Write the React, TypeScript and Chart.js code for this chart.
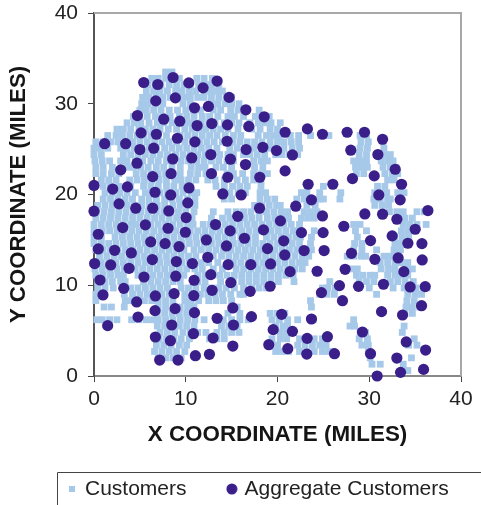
import React, { useEffect, useRef } from "react";
import { Chart, registerables } from "chart.js";

Chart.register(...registerables);

const axisTicks = [0, 10, 20, 30, 40];

const customerRows: [number, number[]][] = [
  [33.5, [7.8, 8.5]],
  [32.8, [6.3, 7.0, 7.8, 8.6, 9.3, 11.2, 12.0, 12.9]],
  [32.1, [5.9, 6.7, 7.3, 8.2, 9.0, 9.8, 10.5, 11.4, 12.1, 12.8, 13.6]],
  [31.4, [5.7, 6.5, 7.2, 8.0, 8.9, 9.6, 10.4, 11.1, 12.0, 12.7, 13.4, 14.0]],
  [30.7, [5.3, 6.0, 6.8, 7.5, 8.3, 9.2, 9.9, 10.5, 11.3, 12.0, 12.8, 13.6, 14.4, 15.0]],
  [30.0, [5.2, 5.9, 6.7, 7.5, 9.7, 10.5, 12.8, 13.5, 14.3, 15.0, 15.8]],
  [29.3, [5.0, 5.7, 6.5, 7.3, 8.2, 9.1, 10.0, 10.8, 11.6, 13.0, 13.8, 14.9, 15.7, 16.4, 18.0]],
  [28.6, [4.3, 5.0, 5.8, 6.7, 7.5, 8.3, 9.3, 10.1, 10.9, 11.8, 12.6, 13.5, 14.6, 15.3, 16.3, 17.6, 18.3, 19.1]],
  [27.9, [3.6, 4.4, 5.1, 6.0, 6.9, 7.6, 8.5, 10.1, 10.8, 11.7, 12.5, 13.2, 14.2, 15.0, 15.8, 17.0, 17.9, 18.6, 19.3, 20.3]],
  [27.2, [2.5, 3.2, 4.0, 4.9, 5.6, 6.4, 7.2, 8.1, 9.0, 9.9, 10.7, 11.5, 12.2, 13.0, 13.8, 14.6, 15.7, 17.2, 18.1, 19.2, 20.0]],
  [26.5, [1.5, 2.4, 3.1, 3.9, 4.7, 5.4, 6.2, 7.0, 7.9, 9.4, 10.2, 11.0, 11.8, 12.6, 13.4, 14.3, 15.2, 16.0, 17.9, 18.8, 19.5, 20.2, 21.4, 22.3, 23.6, 25.6, 29.0, 29.7]],
  [25.8, [0.2, 1.0, 1.8, 2.6, 3.4, 4.2, 5.0, 5.8, 6.6, 7.4, 8.2, 9.0, 9.9, 10.7, 11.5, 12.3, 13.1, 14.0, 15.1, 15.9, 16.7, 17.5, 18.3, 19.2, 20.0, 20.7, 21.5, 22.3, 29.1, 29.9, 31.5]],
  [25.1, [0.0, 0.7, 1.5, 2.9, 3.6, 4.4, 5.2, 6.0, 6.8, 7.7, 8.5, 9.3, 10.1, 10.9, 11.7, 12.5, 13.4, 14.8, 15.6, 16.5, 17.4, 18.2, 19.1, 19.9, 20.7, 21.6, 22.4, 29.0, 29.8, 31.6]],
  [24.4, [0.0, 0.8, 3.2, 4.0, 4.8, 5.6, 6.4, 7.2, 8.0, 8.9, 9.7, 10.5, 11.3, 12.1, 12.9, 13.7, 14.6, 15.2, 16.3, 17.0, 17.8, 18.6, 19.8, 20.5, 21.3, 22.2, 28.9, 29.7, 31.7, 32.3]],
  [23.7, [0.1, 0.9, 1.7, 2.9, 3.6, 4.5, 5.3, 6.2, 7.0, 7.9, 8.7, 9.5, 10.3, 11.2, 12.0, 12.8, 13.6, 14.5, 15.2, 17.4, 18.2, 18.9, 28.3, 29.0, 29.7, 31.3, 32.0, 32.6]],
  [23.0, [0.2, 1.0, 2.0, 3.6, 4.3, 5.1, 5.9, 6.8, 7.6, 8.5, 9.4, 10.6, 11.4, 12.1, 13.3, 14.1, 15.0, 17.5, 18.4, 28.5, 29.2, 29.8, 31.5, 32.3, 32.9]],
  [22.3, [0.2, 1.0, 1.9, 2.7, 4.6, 5.4, 6.2, 7.0, 7.8, 8.6, 9.4, 10.5, 11.3, 12.2, 14.5, 15.2, 16.2, 17.4, 18.2, 18.9, 28.6, 29.4, 31.7, 32.5, 33.1]],
  [21.6, [0.8, 1.6, 2.4, 3.9, 4.7, 5.5, 6.3, 7.1, 7.9, 8.8, 9.5, 10.3, 11.1, 12.4, 13.2, 14.2, 15.6, 16.5, 17.4, 18.2, 32.0, 32.7]],
  [20.9, [1.0, 1.8, 2.7, 3.5, 4.0, 5.4, 6.2, 7.0, 7.9, 8.7, 9.6, 10.5, 13.3, 14.2, 15.1, 15.9, 16.7, 18.2, 25.0, 30.9, 31.7]],
  [20.2, [1.2, 2.0, 2.8, 3.6, 4.5, 5.6, 6.3, 7.2, 8.0, 8.9, 9.7, 10.6, 11.2, 14.0, 14.8, 15.7, 16.5, 18.1, 18.7, 22.6, 23.2, 24.6, 26.9, 30.6, 31.3, 31.9, 33.1, 33.8]],
  [19.5, [1.0, 1.8, 2.6, 3.4, 4.2, 5.2, 6.0, 6.8, 7.7, 8.5, 9.3, 10.2, 11.0, 14.2, 15.0, 18.1, 18.9, 19.7, 22.1, 22.9, 23.7, 24.5, 25.0, 26.8, 30.5, 31.2, 32.0, 32.3, 33.3]],
  [18.8, [0.4, 1.2, 2.0, 2.8, 3.6, 4.4, 5.2, 6.0, 6.9, 7.7, 8.6, 9.4, 10.2, 11.0, 17.5, 18.3, 19.1, 19.9, 20.3, 23.2, 24.1, 30.6, 31.4, 32.1]],
  [18.1, [0.3, 1.1, 1.9, 2.7, 3.5, 4.3, 5.1, 5.9, 6.8, 7.6, 8.4, 9.2, 10.0, 10.9, 13.0, 14.6, 15.5, 16.3, 17.1, 18.0, 18.8, 19.6, 20.4, 21.1, 22.9, 23.6, 24.3, 32.2, 33.0, 33.7, 35.2, 36.0]],
  [17.4, [0.2, 1.0, 1.8, 2.6, 3.4, 4.2, 5.0, 5.8, 6.6, 7.4, 8.2, 9.0, 9.8, 10.7, 12.8, 14.0, 14.8, 15.6, 16.4, 17.2, 18.0, 18.9, 19.7, 20.5, 21.2, 22.6, 23.3, 24.0, 33.2, 33.9, 34.7]],
  [16.7, [0.0, 0.8, 1.6, 2.4, 3.2, 4.0, 4.6, 5.4, 6.2, 7.0, 7.8, 8.6, 9.4, 10.2, 10.8, 11.9, 12.7, 13.5, 14.3, 15.1, 15.9, 16.7, 17.5, 18.3, 19.1, 19.9, 20.7, 21.5, 22.4, 28.3, 29.0, 33.7, 34.4, 35.2, 36.2]],
  [16.0, [0.0, 0.9, 1.7, 2.5, 3.3, 4.1, 4.9, 5.7, 6.5, 7.3, 8.1, 8.9, 9.7, 10.5, 11.3, 12.1, 12.9, 13.7, 14.5, 15.3, 16.1, 16.9, 17.7, 18.5, 19.3, 20.1, 20.9, 21.7, 22.3, 24.0, 28.5, 29.7, 33.5, 34.2]],
  [15.3, [0.0, 0.8, 2.3, 3.1, 3.9, 4.7, 5.5, 6.3, 7.1, 7.9, 8.7, 9.5, 10.3, 11.1, 11.9, 12.7, 13.5, 14.3, 15.1, 16.0, 16.8, 17.6, 18.8, 19.6, 20.4, 21.2, 22.0, 22.5, 23.7, 28.7, 32.8, 33.6, 34.3]],
  [14.6, [0.0, 0.8, 1.6, 2.4, 3.2, 4.0, 4.8, 5.6, 6.4, 7.2, 8.0, 8.8, 9.6, 10.4, 11.2, 12.0, 12.8, 13.6, 14.4, 15.2, 16.0, 16.8, 17.6, 18.4, 19.2, 20.0, 20.8, 21.6, 22.4, 23.6, 28.4, 29.2, 32.8, 33.5]],
  [13.9, [0.2, 1.0, 1.8, 2.6, 3.4, 4.2, 5.0, 5.8, 6.6, 7.4, 8.2, 9.0, 9.8, 10.9, 11.7, 12.5, 13.3, 14.1, 14.9, 15.7, 16.5, 17.3, 18.1, 18.9, 19.7, 20.5, 21.3, 22.1, 22.9, 23.7, 28.3, 29.2, 30.8, 32.7, 33.4]],
  [13.2, [0.6, 1.4, 2.2, 3.0, 3.8, 4.7, 5.5, 6.3, 7.1, 7.9, 8.7, 9.5, 10.3, 11.1, 13.0, 13.9, 14.7, 15.5, 16.3, 17.1, 17.9, 18.7, 19.5, 20.3, 21.1, 21.9, 22.7, 23.4, 27.6, 28.3, 29.1, 29.6, 31.6, 32.2, 32.7]],
  [12.5, [0.0, 0.8, 1.6, 2.4, 3.2, 4.0, 4.8, 5.6, 6.4, 7.2, 8.0, 8.8, 9.6, 10.4, 11.7, 12.5, 13.5, 15.2, 16.0, 16.8, 17.6, 18.4, 19.2, 20.0, 20.8, 21.6, 22.4, 23.0, 31.2, 32.0, 32.8, 33.5, 34.2]],
  [11.8, [0.1, 0.9, 1.7, 2.5, 3.3, 4.5, 5.3, 6.1, 6.9, 7.7, 8.5, 9.3, 10.1, 11.0, 11.8, 13.0, 14.0, 15.5, 16.3, 17.1, 17.9, 18.7, 19.5, 20.3, 21.1, 21.9, 22.7, 28.0, 28.7, 31.3, 32.1, 32.8, 34.0, 34.7]],
  [11.1, [0.2, 1.0, 1.8, 2.6, 3.2, 4.8, 5.6, 6.4, 7.2, 8.0, 8.8, 9.8, 11.3, 12.1, 12.9, 13.7, 14.5, 15.3, 16.1, 16.9, 17.7, 18.5, 19.3, 20.1, 20.9, 21.7, 28.6, 29.3, 30.1, 30.6, 32.0, 32.8, 33.5, 34.2]],
  [10.4, [0.4, 1.2, 2.0, 2.9, 3.4, 5.4, 6.2, 7.0, 7.8, 8.6, 9.4, 11.3, 12.1, 13.8, 15.2, 16.1, 16.9, 17.7, 18.5, 19.3, 20.1, 21.8, 25.7, 28.9, 29.7, 30.5, 32.3, 33.1, 33.9, 34.8]],
  [9.7, [0.4, 1.2, 2.1, 4.0, 4.8, 5.6, 6.4, 7.2, 8.0, 9.5, 10.3, 11.1, 12.0, 12.8, 13.6, 14.4, 15.3, 16.3, 17.2, 18.0, 18.8, 24.9, 25.5, 26.3, 30.0, 32.6, 33.8, 34.3, 35.1, 35.9, 36.3]],
  [9.0, [0.2, 1.0, 3.3, 4.2, 5.0, 5.8, 6.6, 7.4, 8.2, 8.9, 9.9, 10.7, 11.6, 12.4, 13.2, 14.0, 14.9, 15.9, 16.3, 24.6, 25.4, 26.2, 30.8, 34.2, 35.0, 35.7]],
  [8.3, [0.2, 3.4, 3.9, 4.6, 5.5, 6.3, 7.0, 7.8, 8.6, 9.9, 10.6, 11.4, 12.5, 13.3, 14.1, 15.0, 23.6, 34.1, 34.9]],
  [7.6, [1.1, 1.9, 3.3, 7.0, 7.8, 8.6, 9.4, 10.2, 10.9, 15.6, 23.7, 34.0, 34.7, 35.5]],
  [6.9, [6.9, 7.7, 8.5, 9.3, 10.1, 10.9, 14.6, 15.9, 19.2, 20.0, 20.8, 33.9, 34.7]],
  [6.2, [0.3, 0.9, 1.7, 2.5, 4.1, 4.9, 5.7, 6.4, 7.0, 7.8, 8.6, 9.4, 10.2, 11.0, 12.0, 14.1, 15.0, 15.9, 16.8, 19.4, 20.2, 21.1, 22.2, 23.9, 28.3]],
  [5.5, [6.9, 7.7, 8.5, 9.3, 10.1, 10.9, 13.9, 14.7, 15.6, 19.8, 20.6, 21.1, 27.9, 28.4, 33.8]],
  [4.8, [7.2, 8.0, 8.8, 9.7, 10.5, 11.3, 12.2, 13.4, 14.2, 15.0, 15.8, 20.3, 21.0, 29.0, 29.6, 33.6]],
  [4.1, [7.1, 7.9, 8.7, 9.5, 10.4, 12.6, 13.4, 14.2, 19.4, 20.3, 21.0, 22.4, 23.2, 24.0, 24.9, 25.2, 28.9, 29.8, 34.9]],
  [3.4, [6.8, 7.6, 8.4, 9.3, 10.1, 19.2, 20.0, 22.2, 23.0, 23.8, 24.6, 25.3, 29.2, 29.9, 34.3, 35.2]],
  [2.7, [6.6, 7.4, 8.2, 9.0, 9.9, 19.8, 20.5, 21.2, 22.4, 23.2, 24.0, 24.9, 25.6, 26.0, 29.9]],
  [2.0, [7.0, 7.8, 8.6, 9.5, 30.1, 34.6]],
  [1.3, [30.3, 31.2, 33.7]],
  [0.6, [33.8, 34.2]],
];

const aggregatePoints: [number, number][] = [
  [5.42, 32.34], [6.95, 32.12], [8.62, 32.89], [10.33, 32.3], [11.89, 31.75], [13.42, 32.5],
  [6.73, 30.32], [8.87, 30.65], [14.73, 30.7], [10.95, 29.55], [12.47, 29.7], [16.55, 29.33],
  [18.55, 28.56], [4.73, 28.7], [7.6, 28.3], [9.35, 28.08], [11.24, 27.6], [12.84, 27.82],
  [14.55, 27.67], [16.87, 27.5], [5.13, 26.79], [6.8, 26.64], [9.09, 26.2], [11.0, 25.8],
  [14.51, 25.87], [1.16, 25.6], [3.45, 25.6], [5.0, 24.95], [6.51, 25.1], [16.58, 24.95],
  [18.4, 25.2], [19.89, 24.84], [12.73, 24.4], [8.58, 23.92], [10.65, 24.03], [14.87, 23.89],
  [16.51, 23.3], [4.69, 23.45], [2.91, 22.71], [6.4, 21.97], [8.4, 22.3], [12.8, 22.3],
  [14.58, 21.9], [18.07, 21.9], [0.0, 21.0], [2.04, 20.6], [3.64, 20.84], [6.65, 20.25],
  [8.36, 19.95], [10.36, 20.72], [14.04, 20.06], [16.04, 19.95],
  [20.83, 26.86], [23.26, 27.23], [24.9, 26.64], [27.59, 26.86], [29.48, 26.86], [31.45, 26.09],
  [21.63, 24.36], [27.99, 24.88], [30.94, 24.4], [20.83, 22.6], [32.83, 22.78], [28.17, 21.75],
  [30.54, 22.05], [23.34, 21.13], [26.03, 21.13], [33.52, 21.13], [31.04, 19.95],
  [2.73, 18.97], [0.0, 18.16], [4.55, 18.49], [6.4, 18.49], [8.15, 18.19], [10.22, 19.08],
  [10.04, 17.46], [15.67, 17.6], [18.04, 18.49], [3.13, 16.36], [5.6, 16.65], [8.07, 16.28],
  [13.24, 16.69], [0.47, 15.62], [9.96, 15.84], [14.84, 15.99], [18.47, 16.1], [12.25, 14.99],
  [6.18, 14.78], [7.75, 14.59], [9.27, 14.26], [14.44, 14.33], [16.4, 15.18], [0.47, 14.0],
  [2.25, 13.85], [4.07, 13.56], [18.91, 14.04], [12.4, 13.08], [6.36, 12.83], [8.98, 12.61],
  [10.73, 12.39], [0.07, 12.39], [1.82, 12.24], [3.82, 11.87], [14.62, 12.27], [17.09, 12.27],
  [19.24, 12.35], [12.73, 11.17], [8.91, 11.0], [5.45, 10.91], [10.91, 10.55], [0.65, 10.58],
  [14.91, 10.29], [3.24, 9.66], [12.87, 9.44], [17.02, 9.33], [19.2, 9.89], [0.98, 8.93],
  [6.69, 8.82], [8.73, 9.08], [10.87, 8.86], [4.65, 8.16], [8.84, 7.42], [6.65, 7.2],
  [10.95, 6.98], [15.13, 7.5], [4.8, 6.5], [13.42, 6.36], [17.16, 6.54], [1.49, 5.55],
  [8.47, 5.62], [15.2, 5.62], [10.84, 4.66], [19.53, 5.11], [6.69, 4.3], [8.33, 3.89],
  [12.98, 4.19], [15.13, 3.3], [19.05, 3.45], [12.58, 2.39], [11.05, 2.24], [7.16, 1.76],
  [9.16, 1.76],
  [23.7, 19.41], [21.99, 18.71], [33.37, 19.41], [36.39, 18.23], [24.9, 17.64], [29.52, 17.86],
  [31.45, 17.83], [33.01, 17.27], [20.32, 17.09], [27.23, 16.5], [35.01, 16.17], [22.61, 15.8],
  [24.97, 15.8], [32.5, 15.44], [30.14, 14.92], [20.68, 14.89], [34.21, 14.63], [35.74, 14.59],
  [22.9, 13.82], [25.08, 13.82], [28.06, 13.52], [20.79, 13.34], [30.61, 12.86], [33.15, 13.01],
  [35.77, 12.79], [21.37, 11.5], [24.32, 11.54], [27.37, 11.76], [33.77, 11.5], [31.55, 10.11],
  [26.75, 9.96], [28.83, 9.88], [34.46, 9.81], [36.1, 9.85], [24.79, 9.19], [27.08, 8.3],
  [35.7, 7.75], [31.34, 7.09], [33.63, 6.72], [20.46, 6.8], [23.7, 6.28], [21.63, 4.92],
  [29.26, 4.85], [25.44, 4.33], [23.23, 4.15], [34.03, 3.75], [21.12, 3.01], [36.14, 2.86],
  [23.19, 2.42], [26.21, 2.46], [30.14, 2.46], [33.01, 1.98], [33.41, 0.4], [35.92, 0.73],
  [30.86, 0.0],
];

const LIGHT = "#a6c8e9";
const DARK = "#3a1f8a";
const FONT = "'Liberation Sans', Arial, sans-serif";

function marker(draw: (c: CanvasRenderingContext2D) => void, size: number) {
  const m = document.createElement("canvas");
  m.width = size;
  m.height = size;
  draw(m.getContext("2d") as CanvasRenderingContext2D);
  return m;
}

export default function App() {
  const ref = useRef<HTMLCanvasElement>(null);
  useEffect(() => {
    const squareMark = marker((c) => {
      c.fillStyle = LIGHT;
      c.fillRect(0, 0, 6, 6);
    }, 6);
    const circleMark = marker((c) => {
      c.fillStyle = DARK;
      c.beginPath();
      c.arc(6, 6, 5.5, 0, Math.PI * 2);
      c.fill();
    }, 12);

    const frame = {
      id: "frame",
      beforeLayout(chart: any) {
        const legend = chart.legend;
        if (legend.__wrapped) return;
        legend.__wrapped = true;
        const fit = legend.fit;
        legend.fit = function () {
          this.maxWidth = 2000;
          fit.call(this);
          this.width = 481;
          this.height = 33;
        };
      },
      afterLayout(chart: any) {
        chart.legend.left = 27;
        chart.legend.right = 2000;
        chart.legend.top = 435.4;
      },
      beforeDatasetsDraw(chart: any) {
        const { ctx, chartArea: a } = chart;
        ctx.save();
        ctx.strokeStyle = "#a8a8a8";
        ctx.lineWidth = 2;
        ctx.beginPath();
        ctx.moveTo(a.left, a.top);
        ctx.lineTo(a.right, a.top);
        ctx.lineTo(a.right, a.bottom);
        ctx.stroke();
        ctx.restore();
      },
      afterDraw(chart: any) {
        const { ctx } = chart;
        ctx.save();
        ctx.strokeStyle = "#444444";
        ctx.lineWidth = 1;
        ctx.beginPath();
        ctx.moveTo(57.5, 505);
        ctx.lineTo(57.5, 472.5);
        ctx.lineTo(481, 472.5);
        ctx.stroke();
        ctx.restore();
      },
    };

    const chart = new Chart(ref.current as HTMLCanvasElement, {
      type: "scatter",
      data: {
        datasets: [
          {
            label: "Customers",
            data: customerRows.flatMap(([y, xs]) => xs.map((x) => ({ x, y }))),
            pointStyle: "rect",
            pointRadius: 4.8,
            pointBorderWidth: 0,
            backgroundColor: LIGHT,
            borderColor: LIGHT,
            clip: false,
            order: 2,
          },
          {
            label: "Aggregate Customers",
            data: aggregatePoints.map(([x, y]) => ({ x, y })),
            pointStyle: "circle",
            pointRadius: 5.6,
            pointBorderWidth: 0,
            backgroundColor: DARK,
            borderColor: DARK,
            clip: false,
            order: 1,
          },
        ],
      } as any,
      options: {
        responsive: false,
        animation: false,
        devicePixelRatio: 1,
        layout: { padding: { top: 13, right: 20, bottom: 0, left: 0 } },
        plugins: {
          tooltip: { enabled: false },
          legend: {
            position: "bottom",
            align: "start",
            labels: {
              usePointStyle: true,
              pointStyleWidth: 4.4,
              boxHeight: 12,
              padding: 43.1,
              color: "#222222",
              font: { family: FONT, size: 21 },
              generateLabels: () => [
                { text: "Customers", pointStyle: squareMark, fillStyle: LIGHT, strokeStyle: LIGHT, lineWidth: 0, fontColor: "#222222", datasetIndex: 0 },
                { text: "Aggregate Customers", pointStyle: circleMark, fillStyle: DARK, strokeStyle: DARK, lineWidth: 0, fontColor: "#222222", datasetIndex: 1 },
              ],
            },
          },
        },
        scales: {
          x: {
            type: "linear",
            min: 0,
            max: 40,
            afterBuildTicks: (s: any) => {
              s.ticks = axisTicks.map((value) => ({ value }));
            },
            afterFit: (s: any) => {
              s.height = 96;
            },
            border: { color: "#888888", width: 2 },
            grid: { drawOnChartArea: false, drawTicks: true, tickLength: 6, color: "#444444" },
            ticks: { color: "#222222", font: { family: FONT, size: 21 }, padding: 5, maxRotation: 0 },
            title: { display: true, text: "X COORDINATE (MILES)", color: "#151515", font: { family: FONT, size: 22.4, weight: "bold" }, padding: { top: 3, bottom: 24 } },
          },
          y: {
            type: "linear",
            min: 0,
            max: 40,
            afterBuildTicks: (s: any) => {
              s.ticks = axisTicks.map((value) => ({ value }));
            },
            afterFit: (s: any) => {
              s.width = 94;
              s.paddingTop = 0;
              s.paddingBottom = 0;
            },
            border: { color: "#555555", width: 2 },
            grid: { drawOnChartArea: false, drawTicks: true, tickLength: 6, color: "#444444" },
            ticks: { color: "#222222", font: { family: FONT, size: 21 }, padding: 10 },
            title: { display: true, text: "Y COORDINATE (MILES)", color: "#151515", font: { family: FONT, size: 22.2, weight: "bold" }, padding: { top: 6, bottom: 0 } },
          },
        },
      } as any,
      plugins: [frame],
    });
    return () => chart.destroy();
  }, []);
  return (
    <canvas
      ref={ref}
      width={481}
      height={505}
      style={{ position: "fixed", left: 0, top: 0, width: 481, height: 505, display: "block", background: "#ffffff" }}
    />
  );
}
